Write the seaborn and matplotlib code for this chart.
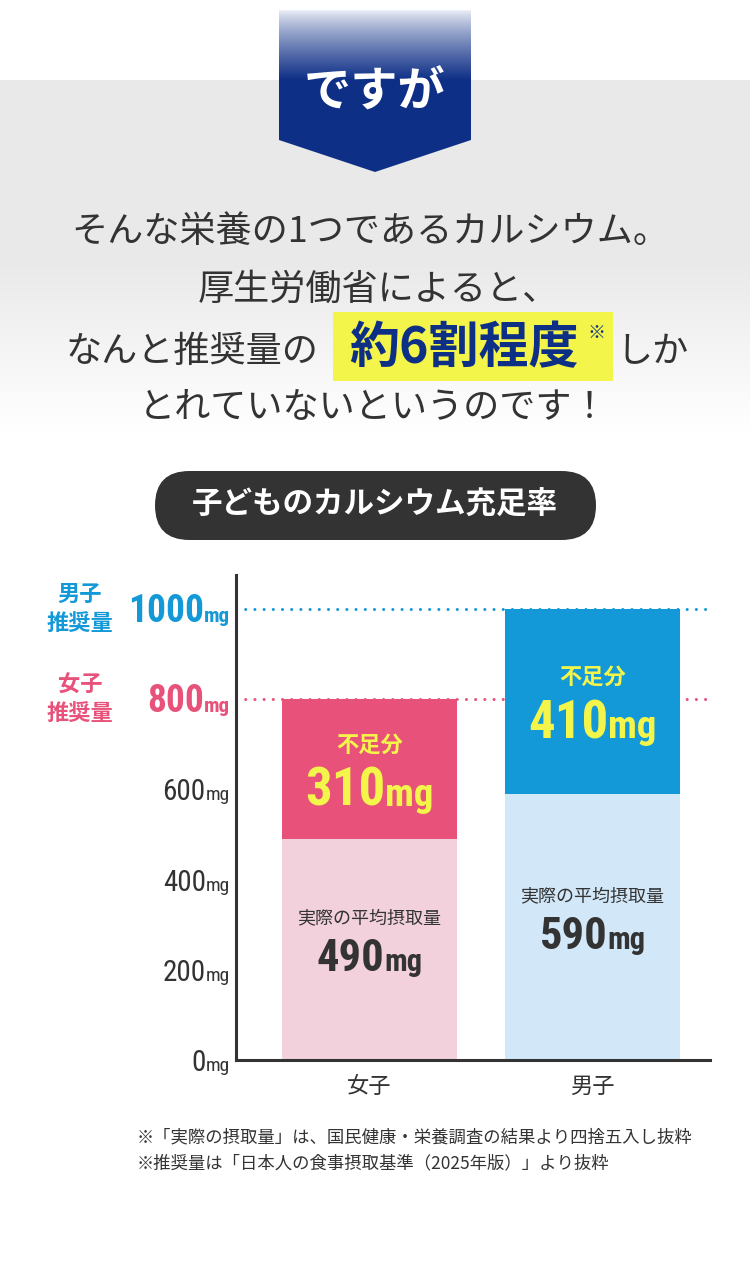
import numpy as np
import pandas as pd
import matplotlib
matplotlib.use('Agg')
import matplotlib.pyplot as plt
import seaborn as sns
from matplotlib import font_manager
from matplotlib.patches import Polygon, Rectangle, FancyBboxPatch
from matplotlib.transforms import ScaledTranslation

# data
categories = ['女子', '男子']
recommended = [800, 1000]
intake = [490, 590]
ticks = [0, 200, 400, 600]
rec_labels = ['女子\n推奨量', '男子\n推奨量']
dark_colors = ['#e8527a', '#1398d8']
light_colors = ['#f2d1dc', '#d2e7f8']

df = pd.DataFrame({'cat': categories, 'rec': recommended, 'intake': intake})
df['short'] = df['rec'] - df['intake']

sns.set_theme(style='white')
plt.rcParams['font.family'] = ['Noto Sans CJK JP', 'DejaVu Sans']

names = {f.name for f in font_manager.fontManager.ttflist}
NUM = next((n for n in ['Roboto Condensed', 'Liberation Sans Narrow', 'DejaVu Sans'] if n in names), 'DejaVu Sans')
num_kw = dict(family=NUM, fontstretch='condensed')

TXT = '#333333'
NAVY = '#0e2f86'
YEL = '#f3f54a'

fig = plt.figure(figsize=(7.5, 12.71), dpi=100)

# background axes in pixel coords
bg = fig.add_axes([0, 0, 1, 1])
bg.set_xlim(0, 750)
bg.set_ylim(1271, 0)
bg.axis('off')

col = np.ones(1271)
yy = np.arange(1271)
col[(yy >= 80) & (yy < 260)] = 0.914
fade = (yy >= 260) & (yy < 430)
col[fade] = 0.914 + (1 - 0.914) * (yy[fade] - 260) / 170
grad = np.repeat(col[:, None, None], 3, axis=2)
bg.imshow(grad, extent=(0, 750, 1271, 0), aspect='auto', zorder=0)

# banner
banner = Polygon([(279, 10), (471, 10), (471, 140), (375, 172), (279, 140)], closed=True,
                 facecolor='none', edgecolor='none')
bg.add_patch(banner)
navy_rgb = np.array(matplotlib.colors.to_rgb(NAVY))
by = np.arange(10, 173)
t = np.clip((by - 10) / 70, 0, 1) ** 0.8
bgrad = (1 - t)[:, None] * np.array([0.93, 0.94, 0.97]) + t[:, None] * navy_rgb
im = bg.imshow(bgrad[:, None, :], extent=(279, 471, 172, 10), aspect='auto', zorder=1)
im.set_clip_path(banner)
bg.set_xlim(0, 750)
bg.set_ylim(1271, 0)
bg.text(375, 93, 'ですが', ha='center', va='center', fontsize=34, fontweight='bold', color='white', zorder=3)

# main text
main_kw = dict(fontsize=26, color=TXT)
bg.text(370, 232, 'そんな栄養の1つであるカルシウム。', ha='center', va='center', **main_kw)
bg.text(378, 290, '厚生労働省によると、', ha='center', va='center', **main_kw)
bg.add_patch(Rectangle((333, 312), 280, 69, facecolor=YEL, edgecolor='none', zorder=1))
bg.text(66, 352, 'なんと推奨量の', ha='left', va='center', **main_kw)
bg.text(464, 349, '約6割程度', ha='center', va='center', fontsize=36, fontweight='bold', color=NAVY, zorder=2)
bg.text(596, 333, '※', ha='center', va='center', fontsize=13, color=NAVY, zorder=2)
bg.text(616, 352, 'しか', ha='left', va='center', **main_kw)
bg.text(374, 408, 'とれていないというのです！', ha='center', va='center', **main_kw)

# pill title
bg.add_patch(FancyBboxPatch((155, 471), 441, 69, boxstyle='round,pad=0,rounding_size=34.5',
                            facecolor='#333333', edgecolor='none'))
bg.text(375, 505, '子どものカルシウム充足率', ha='center', va='center', fontsize=22,
        fontweight='bold', color='white')


def mixed(axis, parts, x, y, trans, ha='center', dy=0):
    # parts drawn side by side on a shared baseline; dy in px, positive = down
    texts = [axis.text(x, y, s, transform=trans, ha='left', va='baseline', **kw) for s, kw in parts]
    r = fig.canvas.get_renderer()
    widths = [tx.get_window_extent(r).width for tx in texts]
    total = sum(widths)
    start = {'left': 0, 'center': -total / 2, 'right': -total}[ha]
    for tx, w in zip(texts, widths):
        tx.set_transform(trans + ScaledTranslation(start / fig.dpi, -dy / fig.dpi, fig.dpi_scale_trans))
        start += w
    return texts


# chart
ax = fig.add_axes([236 / 750, 1 - 1060 / 1271, 474 / 750, 485 / 1271])
ax.patch.set_alpha(0)

for val, c in zip(recommended, dark_colors):
    ax.axhline(val, color=c, ls=(0, (0.01, 3)), lw=2.2, dash_capstyle='round', zorder=1)

sns.barplot(data=df, x='cat', y='rec', hue='cat', palette=dict(zip(categories, dark_colors)),
            width=0.785, saturation=1, linewidth=0, legend=False, ax=ax, zorder=2)
sns.barplot(data=df, x='cat', y='intake', hue='cat', palette=dict(zip(categories, light_colors)),
            width=0.785, saturation=1, linewidth=0, legend=False, ax=ax, zorder=2)

ax.set_xlim(-0.599, 1.527)
ax.set_ylim(0, 1075)
sns.despine(ax=ax)
for s in ['left', 'bottom']:
    ax.spines[s].set_color(TXT)
    ax.spines[s].set_linewidth(2.2)
ax.set_xlabel('')
ax.set_ylabel('')
ax.set_yticks([])
ax.set_xticks(range(len(categories)))
ax.set_xticklabels(categories, fontsize=16, color=TXT)
ax.tick_params(axis='x', length=0, pad=11)

ytr = ax.get_yaxis_transform()
for v in ticks:
    mixed(ax, [(f'{v}', dict(fontsize=21, color=TXT, **num_kw)),
               ('mg', dict(fontsize=14, color=TXT, **num_kw))],
          -6 / 474, v, ytr, ha='right', dy=11)

for i, (v, c) in enumerate(zip(recommended, dark_colors)):
    mixed(ax, [(f'{v}', dict(fontsize=27, color=c, fontweight='bold', **num_kw)),
               ('mg', dict(fontsize=15, color=c, fontweight='bold', **num_kw))],
          -6 / 474, v, ytr, ha='right', dy=13)
    ax.text(-156 / 474, v, rec_labels[i], transform=ytr, ha='center', va='center', fontsize=16,
            fontweight='bold', color=c, linespacing=1.3)

for i, row in df.iterrows():
    mid_short = (row['intake'] + row['rec']) / 2
    ax.text(i, mid_short, '不足分', ha='center', va='center', fontsize=16, fontweight='bold',
            color=YEL, transform=ax.transData)
    ax.texts[-1].set_transform(ax.transData + ScaledTranslation(0, 24 / fig.dpi, fig.dpi_scale_trans))
    mixed(ax, [(f"{row['short']}", dict(fontsize=38, color=YEL, fontweight='bold', **num_kw)),
               ('mg', dict(fontsize=28, color=YEL, fontweight='bold', **num_kw))],
          i, mid_short, ax.transData, ha='center', dy=37)

    mid_in = row['intake'] / 2
    ax.text(i, mid_in, '実際の平均摂取量', ha='center', va='center', fontsize=13, color=TXT)
    ax.texts[-1].set_transform(ax.transData + ScaledTranslation(0, 31 / fig.dpi, fig.dpi_scale_trans))
    mixed(ax, [(f"{row['intake']}", dict(fontsize=32, color=TXT, fontweight='bold', **num_kw)),
               ('mg', dict(fontsize=22, color=TXT, fontweight='bold', **num_kw))],
          i, mid_in, ax.transData, ha='center', dy=22)

# footnotes
bg.text(137, 1137, '※「実際の摂取量」は、国民健康・栄養調査の結果より四捨五入し抜粋', ha='left', va='center',
        fontsize=12.5, color=TXT)
bg.text(137, 1163, '※推奨量は「日本人の食事摂取基準（2025年版）」より抜粋', ha='left', va='center',
        fontsize=12.5, color=TXT)

fig.savefig('out.png', dpi=100)
